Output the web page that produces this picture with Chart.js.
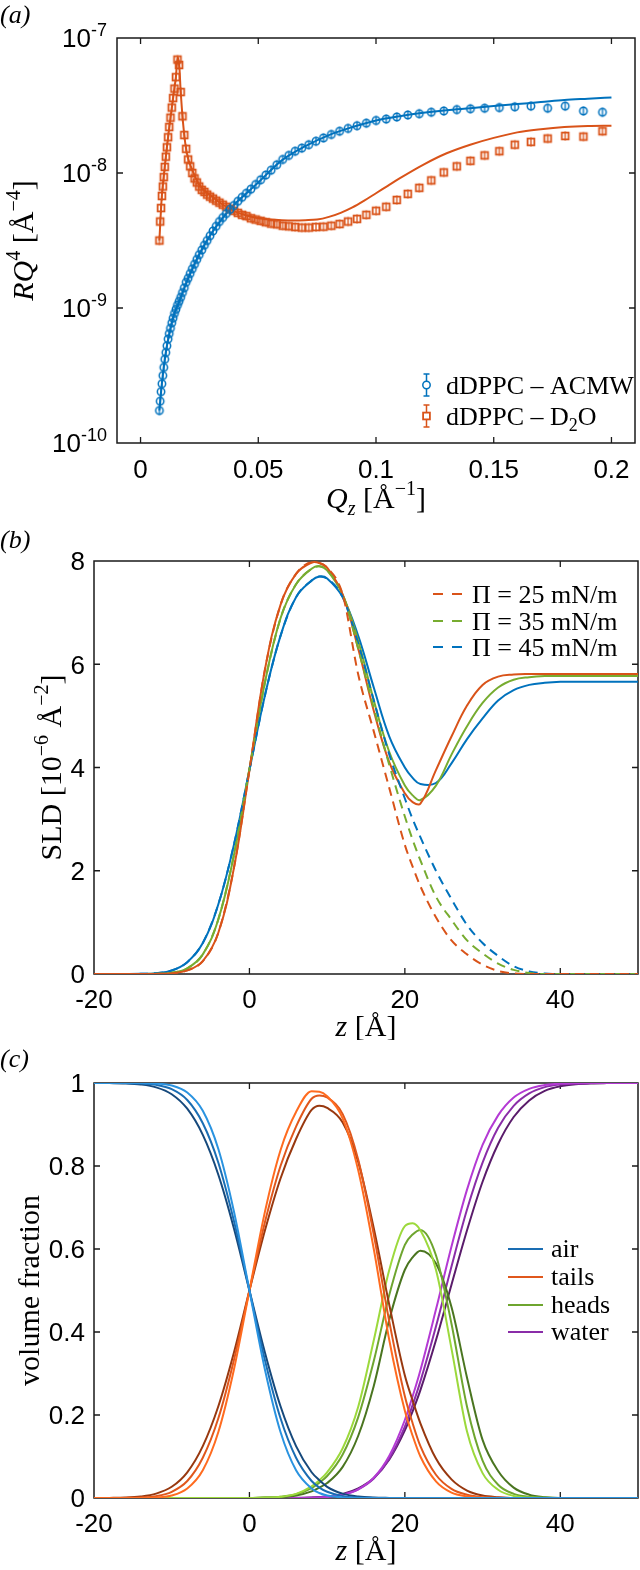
<!DOCTYPE html>
<html><head><meta charset="utf-8">
<script src="https://cdn.jsdelivr.net/npm/chart.js@4.4.1/dist/chart.umd.min.js"></script>
<style>
html,body{margin:0;padding:0;background:#fff;width:640px;height:1570px;overflow:hidden}
canvas{position:absolute;left:0}
</style></head><body>
<canvas id="ca" style="top:0" width="640" height="520"></canvas>
<canvas id="cb" style="top:520px" width="640" height="520"></canvas>
<canvas id="cc" style="top:1040px" width="640" height="530"></canvas>
<script>
// ---------- Panel (a) data ----------
const qData = [0.00800,0.00834,0.00870,0.00908,0.00947,0.00987,0.01030,0.01074,0.01120,0.01169,
0.01219,0.01271,0.01326,0.01383,0.01442,0.01504,0.01569,0.01636,0.01707,0.01780,
0.01857,0.01937,0.02020,0.02107,0.02197,0.02292,0.02390,0.02493,0.02600,0.02712,
0.02829,0.02950,0.03077,0.03210,0.03348,0.03492,0.03642,0.03798,0.03962,0.04132,
0.04310,0.04495,0.04688,0.04890,0.05100,0.05320,0.05548,0.05787,0.06036,0.06295,
0.06566,0.06848,0.07143,0.07450,0.07770,0.08104,0.08453,0.08816,0.09195,0.09590,
0.10003,0.10433,0.10882,0.11350,0.11838,0.12347,0.12878,0.13431,0.14009,0.14611,
0.15239,0.15895,0.16578,0.17291,0.18035,0.18810,0.19619];
const acmwData = [1.74e-10,2.04e-10,2.40e-10,2.75e-10,3.16e-10,3.63e-10,4.17e-10,4.68e-10,5.25e-10,5.89e-10,
6.46e-10,7.08e-10,7.76e-10,8.41e-10,9.12e-10,9.77e-10,1.05e-9,1.12e-9,1.20e-9,1.30e-9,
1.41e-9,1.55e-9,1.66e-9,1.80e-9,1.95e-9,2.11e-9,2.29e-9,2.48e-9,2.69e-9,2.92e-9,
3.16e-9,3.43e-9,3.72e-9,4.03e-9,4.37e-9,4.68e-9,5.01e-9,5.37e-9,5.75e-9,6.17e-9,
6.61e-9,7.08e-9,7.59e-9,8.22e-9,8.91e-9,9.66e-9,1.05e-8,1.15e-8,1.26e-8,1.35e-8,
1.45e-8,1.53e-8,1.62e-8,1.72e-8,1.82e-8,1.93e-8,2.04e-8,2.14e-8,2.24e-8,2.34e-8,
2.45e-8,2.51e-8,2.60e-8,2.69e-8,2.75e-8,2.82e-8,2.88e-8,2.95e-8,2.99e-8,3.02e-8,
3.05e-8,3.09e-8,3.13e-8,3.02e-8,3.13e-8,2.88e-8,2.82e-8];
const d2oData = [3.16e-9,4.37e-9,5.50e-9,6.76e-9,7.94e-9,9.33e-9,1.11e-8,1.32e-8,1.55e-8,1.84e-8,
2.19e-8,2.57e-8,3.05e-8,3.59e-8,4.22e-8,5.13e-8,6.92e-8,6.31e-8,3.98e-8,2.63e-8,
1.91e-8,1.51e-8,1.26e-8,1.12e-8,1.00e-8,9.12e-9,8.51e-9,7.94e-9,7.50e-9,7.24e-9,
6.92e-9,6.68e-9,6.46e-9,6.24e-9,6.03e-9,5.82e-9,5.62e-9,5.43e-9,5.25e-9,5.07e-9,
4.90e-9,4.79e-9,4.62e-9,4.52e-9,4.42e-9,4.32e-9,4.22e-9,4.17e-9,4.07e-9,4.03e-9,
3.98e-9,3.94e-9,3.94e-9,3.98e-9,4.00e-9,4.07e-9,4.19e-9,4.37e-9,4.57e-9,4.90e-9,
5.25e-9,5.62e-9,6.31e-9,7.00e-9,7.76e-9,8.81e-9,1.01e-8,1.12e-8,1.23e-8,1.35e-8,
1.45e-8,1.62e-8,1.70e-8,1.80e-8,1.88e-8,1.86e-8,2.04e-8];
const qFitAcmw = [0.008,0.009,0.01,0.011,0.012,0.014,0.016,0.018,0.02,0.025,0.03,0.035,0.04,0.045,0.05,
0.06,0.07,0.08,0.09,0.1,0.11,0.12,0.13,0.14,0.15,0.16,0.17,0.18,0.19,0.2];
const acmwFit = [1.74e-10,2.69e-10,3.80e-10,5.01e-10,6.17e-10,8.71e-10,1.07e-9,1.32e-9,1.62e-9,2.51e-9,
3.55e-9,4.68e-9,5.89e-9,7.08e-9,8.51e-9,1.24e-8,1.58e-8,1.91e-8,2.19e-8,2.45e-8,
2.63e-8,2.79e-8,2.92e-8,3.02e-8,3.13e-8,3.24e-8,3.35e-8,3.47e-8,3.55e-8,3.63e-8];
const qFitD2o = [0.008,0.009,0.01,0.011,0.012,0.014,0.015,0.0158,0.0165,0.017,0.018,0.019,0.02,0.022,0.025,
0.03,0.035,0.04,0.045,0.05,0.055,0.06,0.065,0.07,0.075,0.08,0.085,0.09,0.095,0.1,
0.105,0.11,0.12,0.13,0.14,0.15,0.16,0.17,0.18,0.19,0.2];
const d2oFit = [3.16e-9,6.61e-9,1.00e-8,1.45e-8,2.04e-8,3.80e-8,5.13e-8,7.24e-8,6.03e-8,4.17e-8,
2.40e-8,1.66e-8,1.32e-8,1.05e-8,8.13e-9,6.76e-9,5.82e-9,5.19e-9,4.84e-9,4.62e-9,
4.52e-9,4.47e-9,4.45e-9,4.47e-9,4.52e-9,4.73e-9,5.07e-9,5.56e-9,6.24e-9,7.08e-9,
8.04e-9,9.12e-9,1.15e-8,1.40e-8,1.62e-8,1.82e-8,2.00e-8,2.11e-8,2.19e-8,2.23e-8,2.24e-8];
const qTicks = [0,0.05,0.1,0.15,0.2];
const qTickLabels = ['0','0.05','0.1','0.15','0.2'];
const rqTicks = [1e-10,1e-9,1e-8,1e-7];
const rqTickExps = ['-10','-9','-8','-7'];
const legendA = ['dDPPC \u2013 ACMW','dDPPC \u2013 D'];

// ---------- Panel (b) / (c) shared z grid ----------
const zGrid = [-20,-18,-16,-14,-12,-10,-8,-6,-4,-2,0,2,4,6,8,9,10,12,14,16,18,20,21,22,24,26,28,30,32,34,36,38,40,42,44,46,48,50];
const sld25 = [0,0,0,0,0.002,0.015,0.07,0.25,0.8,2.05, 3.95,5.9,7.15,7.75,7.97, 7.96, 7.87,7.35,6.3,5.1,4.1,3.5, 3.33, 3.30,3.95,4.6,5.2,5.6,5.76,5.8,5.81,5.81,5.81,5.81,5.81,5.81,5.81,5.81];
const sld35 = [0,0,0,0,0.003,0.025,0.11,0.38,1.06,2.3, 3.97,5.65,6.89,7.55,7.85, 7.9, 7.82,7.35,6.45,5.3,4.3,3.65, 3.46, 3.37,3.65,4.25,4.8,5.25,5.55,5.7,5.75,5.77,5.77,5.77,5.77,5.77,5.77,5.77];
const sld45 = [0,0,0,0.003,0.017,0.069,0.23,0.6,1.35,2.5, 3.95,5.4,6.55,7.3,7.62, 7.70, 7.66,7.3,6.55,5.55,4.6,4.0, 3.8, 3.68,3.70,4.08,4.55,4.95,5.3,5.5,5.6,5.64,5.66,5.66,5.66,5.66,5.66,5.66];
const sldDry25 = [0,0,0,0,0.002,0.015,0.07,0.25,0.8,2.05, 3.95,5.9,7.15,7.75,7.97, 7.96, 7.87,7.35,5.8,4.7,3.6,2.5, 2.08, 1.7,1.1,0.65,0.38,0.18,0.06,0.01,0,0,0,0,0,0,0,0];
const sldDry35 = [0,0,0,0,0.003,0.025,0.11,0.38,1.06,2.3, 3.97,5.65,6.89,7.55,7.85, 7.9, 7.82,7.35,6.3,5.15,4.05,3.05, 2.6, 2.2,1.5,1.05,0.65,0.4,0.2,0.08,0.02,0,0,0,0,0,0,0];
const sldDry45 = [0,0,0,0.003,0.017,0.069,0.23,0.6,1.35,2.5, 3.95,5.4,6.55,7.3,7.62, 7.70, 7.66,7.3,6.4,5.3,4.25,3.4, 3.0, 2.65,2.0,1.45,0.95,0.6,0.35,0.15,0.05,0.01,0,0,0,0,0,0];
const zTicks = [-20,0,20,40];
const zTickLabels = ['-20','0','20','40'];
const sldTicks = [0,2,4,6,8];
const sldTickLabels = ['0','2','4','6','8'];
const legendB = ['\u03A0 = 25 mN/m','\u03A0 = 35 mN/m','\u03A0 = 45 mN/m'];

const air25 = [1,1,1,0.9998,0.9987,0.994,0.977,0.933,0.841,0.691, 0.5,0.309,0.159,0.067,0.023, 0.012, 0.006,0.0013,0.0002,0,0,0, 0, 0,0,0,0,0,0,0,0,0,0,0,0,0,0,0];
const air35 = [1,1,0.9997,0.9988,0.9955,0.985,0.959,0.903,0.808,0.668, 0.5,0.332,0.192,0.097,0.041, 0.025, 0.015,0.0045,0.0012,0.0003,0,0, 0, 0,0,0,0,0,0,0,0,0,0,0,0,0,0,0];
const air45 = [1,0.9997,0.999,0.9964,0.9895,0.973,0.938,0.875,0.779,0.65, 0.5,0.35,0.221,0.125,0.062, 0.043, 0.027,0.0105,0.0036,0.001,0.0003,0, 0, 0,0,0,0,0,0,0,0,0,0,0,0,0,0,0];
const tails25 = [0,0,0,0.0002,0.0013,0.006,0.023,0.067,0.159,0.309, 0.5,0.69,0.838,0.93,0.98, 0.979, 0.968,0.915,0.79,0.6,0.38,0.21, 0.15, 0.1,0.04,0.013,0.004,0.001,0,0,0,0,0,0,0,0,0,0];
const tails35 = [0,0,0.0003,0.0012,0.0045,0.015,0.041,0.097,0.192,0.332, 0.5,0.665,0.8,0.895,0.962, 0.97, 0.965,0.925,0.815,0.635,0.425,0.245, 0.18, 0.125,0.056,0.022,0.008,0.002,0.0005,0,0,0,0,0,0,0,0,0];
const tails45 = [0,0.0003,0.001,0.0036,0.0105,0.027,0.062,0.125,0.221,0.35, 0.5,0.645,0.77,0.865,0.935, 0.945, 0.94,0.905,0.81,0.65,0.465,0.295, 0.235, 0.18,0.095,0.045,0.018,0.006,0.002,0,0,0,0,0,0,0,0,0];
const heads25 = [0,0,0,0,0,0,0,0,0,0, 0,0.001,0.003,0.01,0.028, 0.043, 0.062,0.12,0.22,0.38,0.55,0.655, 0.662, 0.645,0.55,0.36,0.16,0.06,0.02,0.005,0.001,0,0,0,0,0,0,0];
const heads35 = [0,0,0,0,0,0,0,0,0,0, 0,0.001,0.003,0.009,0.024, 0.037, 0.053,0.105,0.195,0.33,0.49,0.61, 0.635, 0.646,0.585,0.42,0.22,0.09,0.032,0.01,0.003,0.001,0,0,0,0,0,0];
const heads45 = [0,0,0,0,0,0,0,0,0,0, 0,0.001,0.002,0.006,0.016, 0.025, 0.036,0.075,0.15,0.27,0.43,0.55, 0.58, 0.596,0.565,0.46,0.29,0.14,0.065,0.025,0.008,0.002,0,0,0,0,0,0];
const water25 = [0,0,0,0,0,0,0,0,0,0, 0,0,0,0,0.0007, 0.0013, 0.0025,0.0078,0.021,0.049,0.102,0.188, 0.245, 0.308,0.454,0.606,0.743,0.851,0.922,0.965,0.986,0.995,0.9985,0.9996,1,1,1,1];
const water35 = [0,0,0,0,0,0,0,0,0,0, 0,0,0,0,0.0009, 0.0016, 0.0029,0.0082,0.021,0.047,0.095,0.172, 0.224, 0.281,0.413,0.558,0.695,0.808,0.892,0.945,0.975,0.99,0.9964,0.9989,0.9997,1,1,1];
const water45 = [0,0,0,0,0,0,0,0,0,0, 0,0,0,0.0004,0.0013, 0.0022, 0.0037,0.0096,0.023,0.048,0.093,0.163, 0.209, 0.26,0.38,0.514,0.645,0.762,0.853,0.918,0.958,0.981,0.992,0.997,0.999,0.9997,1,1];
const vfTicks = [0,0.2,0.4,0.6,0.8,1];
const vfTickLabels = ['0','0.2','0.4','0.6','0.8','1'];
const legendC = ['air','tails','heads','water'];

// ---------- styling ----------
const SERIF = '"Liberation Serif","Times New Roman",serif';
const SANS = '"Liberation Sans",Arial,sans-serif';
const TICK_FS = 26, TITLE_FS = 30, LEG_FS = 26;
const BLUE = '#0072BD', ORANGE = '#D95319', GREEN = '#77AC30';
const C_AIR = ['#2A93E0','#1A6DB3','#16497C'];
const C_TAILS = ['#FF6B1F','#E0571C','#98380F'];
const C_HEADS = ['#9CD93C','#6EA52F','#4A7520'];
const C_WATER = ['#B43AD4','#8A2DA8','#5A1C6B'];

function segFont(s, fs){
  const sz = (s.sup||s.sub) ? Math.round(fs*0.68) : fs;
  return (s.it?'italic ':'') + sz + 'px ' + (s.fam||SERIF);
}
function richW(ctx, segs, fs){
  let w = 0; segs.forEach(s=>{ ctx.font = segFont(s,fs); w += ctx.measureText(s.t).width; }); return w;
}
function rich(ctx, segs, x, y, fs, align, rot){
  ctx.save(); ctx.translate(x,y); if(rot) ctx.rotate(rot);
  const w = richW(ctx, segs, fs);
  let cx = align==='center' ? -w/2 : (align==='right' ? -w : 0);
  ctx.textAlign='left'; ctx.textBaseline='alphabetic'; ctx.fillStyle='#000';
  segs.forEach(s=>{
    ctx.font = segFont(s,fs);
    const dy = s.sup ? -fs*0.42 : (s.sub ? fs*0.22 : 0);
    ctx.fillText(s.t, cx, dy);
    cx += ctx.measureText(s.t).width;
  });
  ctx.restore();
}
function frameAndTicks(chart, xt, yt){
  const {ctx, chartArea:a, scales:{x,y}} = chart;
  ctx.save(); ctx.strokeStyle='#1a1a1a'; ctx.lineWidth=1.5;
  ctx.strokeRect(a.left, a.top, a.right-a.left, a.bottom-a.top);
  ctx.lineWidth=1.3;
  ctx.beginPath();
  xt.forEach(v=>{ const p=x.getPixelForValue(v); if(p<a.left+2||p>a.right-2) return;
    ctx.moveTo(p,a.bottom); ctx.lineTo(p,a.bottom-6); ctx.moveTo(p,a.top); ctx.lineTo(p,a.top+6); });
  yt.forEach(v=>{ const p=y.getPixelForValue(v); if(p<a.top+2||p>a.bottom-2) return;
    ctx.moveTo(a.left,p); ctx.lineTo(a.left+6,p); ctx.moveTo(a.right,p); ctx.lineTo(a.right-6,p); });
  ctx.stroke(); ctx.restore();
}
function xTickText(chart, vals, labels, dy){
  const {ctx, chartArea:a, scales:{x}} = chart;
  ctx.save(); ctx.font = TICK_FS+'px '+SANS; ctx.fillStyle='#000'; ctx.textAlign='center'; ctx.textBaseline='alphabetic';
  vals.forEach((v,i)=>ctx.fillText(labels[i], x.getPixelForValue(v), a.bottom+dy));
  ctx.restore();
}
function yTickText(chart, vals, labels, gap){
  const {ctx, chartArea:a, scales:{y}} = chart;
  ctx.save(); ctx.font = TICK_FS+'px '+SANS; ctx.fillStyle='#000'; ctx.textAlign='right'; ctx.textBaseline='alphabetic';
  vals.forEach((v,i)=>ctx.fillText(labels[i], a.left-gap, y.getPixelForValue(v)+TICK_FS*0.36));
  ctx.restore();
}
function markerCanvas(kind, color){
  const c = document.createElement('canvas'); c.width=14; c.height=16;
  const g = c.getContext('2d'); g.strokeStyle=color; g.lineWidth=1.5;
  if(kind==='circle'){ g.beginPath(); g.arc(7,8,3.7,0,2*Math.PI); g.stroke(); }
  else { g.lineWidth=1.8; g.strokeRect(3.6,4.6,6.8,6.8); }
  g.lineWidth=1.3; g.beginPath(); g.moveTo(7,3.5); g.lineTo(7,12.5); g.stroke();
  return c;
}
const pairs = (xs, ys) => xs.map((v,i)=>({x:v, y:ys[i]}));
const baseOpts = (pad, xs, ys) => ({
  responsive:false, devicePixelRatio:1, animation:false, events:[],
  layout:{padding:pad},
  plugins:{legend:{display:false}, title:{display:false}, tooltip:{enabled:false}},
  scales:{x:xs, y:ys}
});

// ---------- Chart (a) ----------
new Chart(document.getElementById('ca'), {
  type:'line',
  data:{datasets:[
    {data:pairs(qData, acmwData), showLine:false, pointStyle:markerCanvas('circle',BLUE), pointRadius:4, borderColor:BLUE},
    {data:pairs(qData, d2oData), showLine:false, pointStyle:markerCanvas('rect',ORANGE), pointRadius:4, borderColor:ORANGE},
    {data:pairs(qFitAcmw, acmwFit), borderColor:BLUE, borderWidth:2, pointRadius:0, cubicInterpolationMode:'monotone', fill:false},
    {data:pairs(qFitD2o, d2oFit), borderColor:ORANGE, borderWidth:2, pointRadius:0, cubicInterpolationMode:'monotone', fill:false}
  ]},
  options: baseOpts({left:117, top:38, right:2, bottom:77},
    {type:'linear', display:false, min:-0.01, max:0.21},
    {type:'logarithmic', display:false, min:1e-10, max:1e-7}),
  plugins:[{id:'decA',
    beforeDatasetsDraw(chart){ frameAndTicks(chart, qTicks, rqTicks); },
    afterDraw(chart){
      const {ctx, chartArea:a, scales:{y}} = chart;
      xTickText(chart, qTicks, qTickLabels, 35);
      rqTicks.forEach((v,i)=>{
        rich(ctx, [{t:'10',fam:SANS},{t:rqTickExps[i],sup:true,fam:SANS}], a.left-10, y.getPixelForValue(v)+TICK_FS*0.36, TICK_FS, 'right');
      });
      rich(ctx, [{t:'RQ',it:true},{t:'4',sup:true},{t:' [\u00C5'},{t:'\u22124',sup:true},{t:']'}], 33, (a.top+a.bottom)/2, TITLE_FS, 'center', -Math.PI/2);
      rich(ctx, [{t:'Q',it:true},{t:'z',it:true,sub:true},{t:' [\u00C5'},{t:'\u22121',sup:true},{t:']'}], (a.left+a.right)/2, 508, TITLE_FS, 'center');
      rich(ctx, [{t:'(a)',it:true}], 0, 23, 26, 'left');
      // legend
      const rows=[385,416], cols=[BLUE,ORANGE];
      rows.forEach((cy,i)=>{
        ctx.save(); ctx.strokeStyle=cols[i]; ctx.lineWidth=1.5;
        ctx.beginPath(); ctx.moveTo(426.5,cy-11); ctx.lineTo(426.5,cy+11);
        ctx.moveTo(423.5,cy-11); ctx.lineTo(429.5,cy-11); ctx.moveTo(423.5,cy+11); ctx.lineTo(429.5,cy+11); ctx.stroke();
        if(i===0){ ctx.beginPath(); ctx.arc(426.5,cy,3.7,0,2*Math.PI); ctx.fillStyle='#fff'; ctx.fill(); ctx.stroke(); }
        else { ctx.lineWidth=1.8; ctx.fillStyle='#fff'; ctx.fillRect(423.1,cy-3.4,6.8,6.8); ctx.strokeRect(423.1,cy-3.4,6.8,6.8); }
        ctx.restore();
      });
      rich(ctx, [{t:legendA[0]}], 446, 394, LEG_FS, 'left');
      rich(ctx, [{t:legendA[1]},{t:'2',sub:true},{t:'O'}], 446, 425, LEG_FS, 'left');
    }}]
});

// ---------- Chart (b) ----------
const lineDs = (ys, col, dash) => ({data:pairs(zGrid, ys), borderColor:col, borderWidth:2, pointRadius:0,
  cubicInterpolationMode:'monotone', fill:false, borderDash: dash||[]});
const smoothDs = (ys, col) => ({data:pairs(zGrid, ys), borderColor:col, borderWidth:2, pointRadius:0,
  tension:0.4, fill:false});
new Chart(document.getElementById('cb'), {
  type:'line',
  data:{datasets:[
    lineDs(sldDry25, ORANGE, [9,6]), lineDs(sldDry35, GREEN, [9,6]), lineDs(sldDry45, BLUE, [9,6]),
    smoothDs(sld25, ORANGE), smoothDs(sld35, GREEN), smoothDs(sld45, BLUE)
  ]},
  options: baseOpts({left:94, top:41, right:2, bottom:66},
    {type:'linear', display:false, min:-20, max:50},
    {type:'linear', display:false, min:0, max:8}),
  plugins:[{id:'decB',
    beforeDatasetsDraw(chart){ frameAndTicks(chart, zTicks, sldTicks); },
    afterDraw(chart){
      const {ctx, chartArea:a} = chart;
      xTickText(chart, zTicks, zTickLabels, 34);
      yTickText(chart, sldTicks, sldTickLabels, 9);
      rich(ctx, [{t:'SLD [10'},{t:'\u22126',sup:true},{t:' \u00C5'},{t:'\u22122',sup:true},{t:']'}], 61, (a.top+a.bottom)/2, TITLE_FS, 'center', -Math.PI/2);
      rich(ctx, [{t:'z',it:true},{t:' [\u00C5]'}], (a.left+a.right)/2, a.bottom+62, TITLE_FS, 'center');
      rich(ctx, [{t:'(b)',it:true}], 0, 28, 26, 'left');
      const rows=[74,101,127], cols=[ORANGE,GREEN,BLUE];
      rows.forEach((cy,i)=>{
        ctx.save(); ctx.strokeStyle=cols[i]; ctx.lineWidth=2; ctx.setLineDash([10,9]);
        ctx.beginPath(); ctx.moveTo(433,cy); ctx.lineTo(463,cy); ctx.stroke(); ctx.restore();
        rich(ctx, [{t:legendB[i]}], 472, cy+9, LEG_FS, 'left');
      });
    }}]
});

// ---------- Chart (c) ----------
new Chart(document.getElementById('cc'), {
  type:'line',
  data:{datasets:[
    lineDs(air25, C_AIR[0]), lineDs(air35, C_AIR[1]), lineDs(air45, C_AIR[2]),
    lineDs(tails25, C_TAILS[0]), lineDs(tails35, C_TAILS[1]), lineDs(tails45, C_TAILS[2]),
    lineDs(heads25, C_HEADS[0]), lineDs(heads35, C_HEADS[1]), lineDs(heads45, C_HEADS[2]),
    lineDs(water25, C_WATER[0]), lineDs(water35, C_WATER[1]), lineDs(water45, C_WATER[2])
  ]},
  options: baseOpts({left:94, top:43, right:2, bottom:72},
    {type:'linear', display:false, min:-20, max:50},
    {type:'linear', display:false, min:0, max:1}),
  plugins:[{id:'decC',
    beforeDatasetsDraw(chart){ frameAndTicks(chart, zTicks, vfTicks); },
    afterDraw(chart){
      const {ctx, chartArea:a} = chart;
      xTickText(chart, zTicks, zTickLabels, 34);
      yTickText(chart, vfTicks, vfTickLabels, 9);
      rich(ctx, [{t:'volume fraction'}], 39, (a.top+a.bottom)/2, TITLE_FS, 'center', -Math.PI/2);
      rich(ctx, [{t:'z',it:true},{t:' [\u00C5]'}], (a.left+a.right)/2, a.bottom+62, TITLE_FS, 'center');
      rich(ctx, [{t:'(c)',it:true}], 0, 27, 26, 'left');
      const rows=[209,237,265,292], cols=[C_AIR[1],C_TAILS[1],C_HEADS[1],C_WATER[1]];
      rows.forEach((cy,i)=>{
        ctx.save(); ctx.strokeStyle=cols[i]; ctx.lineWidth=2;
        ctx.beginPath(); ctx.moveTo(508,cy); ctx.lineTo(543,cy); ctx.stroke(); ctx.restore();
        rich(ctx, [{t:legendC[i]}], 551, cy+8, LEG_FS, 'left');
      });
    }}]
});
</script>
</body></html>
